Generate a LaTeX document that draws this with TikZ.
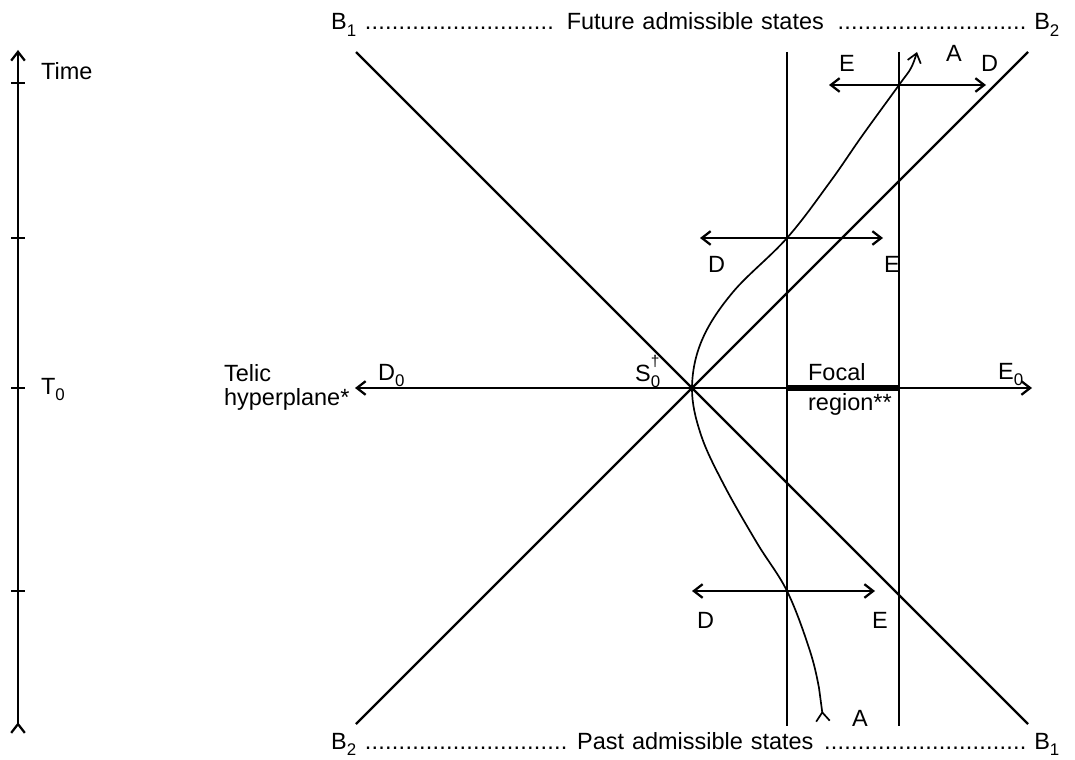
\documentclass[tikz,border=0pt]{standalone}
\usepackage{fontspec}
\setmainfont{Liberation Sans}
\usetikzlibrary{arrows.meta, positioning}
\newcommand{\dotline}{\leaders\hbox to 4.8pt{\hss.\hss}\hfill}
\newcommand{\lo}[1]{\raisebox{-0.5ex}{\fontsize{12}{12}\selectfont#1}}
\newcommand{\hi}[1]{\raisebox{1.15ex}{\fontsize{11}{11}\selectfont#1}}
\tikzset{
  every picture/.style={font=\fontsize{16.7}{20}\selectfont, line width=1.6pt},
  barb/.tip={Straight Barb[length=2.2mm, width=3.4mm]},
  twoway/.style={barb-barb},
  trail/.style={{barb[reversed]}-barb, line width=1.2pt},
  lbl/.style={inner sep=0pt, anchor=base west},
  focal/.style={line width=3.8pt},
}
\begin{document}
\begin{tikzpicture}[x=0.025cm, y=-0.025cm]
  \useasboundingbox (0,0) rectangle (1075,760);
  % time axis
  \coordinate (t0) at (18,734);
  \coordinate (t1) at (18,50);
  \draw[trail, line width=1.6pt] (t0) -- (t1);
  \foreach \y in {83,238,388,591} \draw (11,\y) -- (25,\y);
  \node[lbl] (time) at (40,80) {Time};
  \node[lbl] (tnull) at (40,394) {T\lo{0}};
  % admissible states
  \node[lbl, text width=18.2cm] (future) at (330,30)
    {B\lo{1} \dotline\ Future admissible states \dotline\ B\lo{2}};
  \node[lbl, text width=18.2cm] (past) at (330,749)
    {B\lo{2} \dotline\ Past admissible states \dotline\ B\lo{1}};
  % cone and hyperplane
  \coordinate (S) at (692,388);
  \coordinate (b1t) at (356,52);
  \coordinate (b1b) at (1028,724);
  \coordinate (b2t) at (1028,52);
  \coordinate (b2b) at (356,724);
  \draw (b1t) -- (S) -- (b1b);
  \draw (b2b) -- (S) -- (b2t);
  \coordinate (dnull) at (355,388);
  \coordinate (enull) at (1032,388);
  \draw[twoway] (dnull) -- (enull);
  % focal region
  \coordinate (f1t) at (787,52);
  \coordinate (f1b) at (787,726);
  \coordinate (f2t) at (899,52);
  \coordinate (f2b) at (899,726);
  \draw (f1t) -- (f1b);
  \draw (f2t) -- (f2b);
  \draw[focal] (f1t |- S) -- (f2t |- S);
  % D-E arrows
  \foreach \n/\l/\r/\y in {top/829/986/85, mid/700/883/238, low/692/875/591} {
    \coordinate (\n l) at (\l,\y);
    \coordinate (\n r) at (\r,\y);
    \draw[twoway] (\n l) -- (\n r);
  }
  % trajectory A
  \draw[trail] plot[smooth, tension=0.6] coordinates {(823,722) (819,688) (809,648) (787,591)
    (757,543) (724,485) (701,435) (692,388) (702,340) (733,292) (787,238) (830,182)
    (862,136) (899,85) (911,68) (917,52)};
  % labels
  \node[lbl] at (223,381) {Telic};
  \node[lbl] at (223,405) {hyperplane*};
  \node[lbl] at (377,380) {D\lo{0}};
  \node[lbl] at (997,379) {E\lo{0}};
  \node[lbl] at (634,381) {S\rlap{\hi{\dag}}\lo{0}};
  \node[lbl] at (807,380) {Focal};
  \node[lbl] at (807,410) {region**};
  \node[lbl] at (838,72) {E};
  \node[lbl] at (945,62) {A};
  \node[lbl] at (980,72) {D};
  \node[lbl] at (707,273) {D};
  \node[lbl] at (883,273) {E};
  \node[lbl] at (696,628) {D};
  \node[lbl] at (871,628) {E};
  \node[lbl] at (851,726) {A};
\end{tikzpicture}
\end{document}
